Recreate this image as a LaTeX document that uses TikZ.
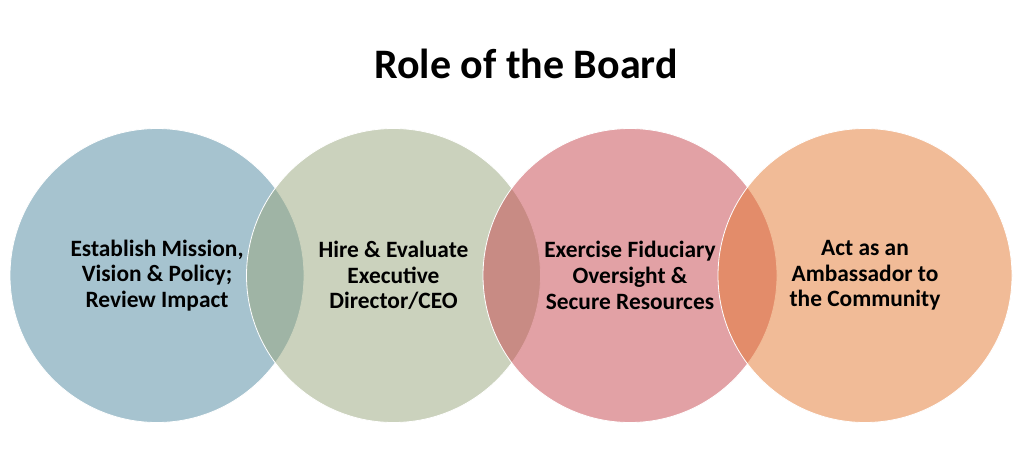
\documentclass[tikz,border=0pt]{standalone}
\usepackage{fontspec}
\setmainfont{Carlito}
\usepackage{tikz}
\usepackage{xcolor}
\definecolor{missionblue}{RGB}{79,137,161}
\definecolor{hiregreen}{RGB}{153,167,125}
\definecolor{fiduciaryred}{RGB}{199,69,77}
\definecolor{ambassadororange}{RGB}{229,121,49}

\begin{document}
\begin{tikzpicture}[x=1pt, y=-1pt,
        role/.style={circle, minimum size=294pt, inner sep=0pt, draw=white, line width=0.8pt, fill opacity=0.5},
        roletext/.style={align=center, font=\fontsize{23.4}{25.7}\selectfont\bfseries, text=black}]

        \useasboundingbox[fill=white] (0, 0) rectangle (1024, 474);

        \node[role, fill=missionblue] (mission) at (157, 275.5) {};
        \node[role, fill=hiregreen] (hire) at (393.5, 275.5) {};
        \node[role, fill=fiduciaryred] (fiduciary) at (630, 275.5) {};
        \node[role, fill=ambassadororange] (ambassador) at (865, 275.5) {};

        \node[roletext] (missiontext) at (mission.center) {Establish Mission,\\Vision \& Policy;\\Review Impact};
        \node[roletext] (hiretext) at (hire.center) {Hire \& Evaluate\\Executive\\Director/CEO};
        \node[roletext] (fiduciarytext) at (fiduciary.center) {Exercise Fiduciary\\Oversight \&\\Secure Resources};
        \node[roletext] (ambassadortext) at (ambassador.center) {Act as an\\Ambassador to\\the Community};

        \node[anchor=base, font=\fontsize{42}{46}\selectfont\bfseries] (title) at (526, 78) {Role of the Board};

\end{tikzpicture}
\end{document}
